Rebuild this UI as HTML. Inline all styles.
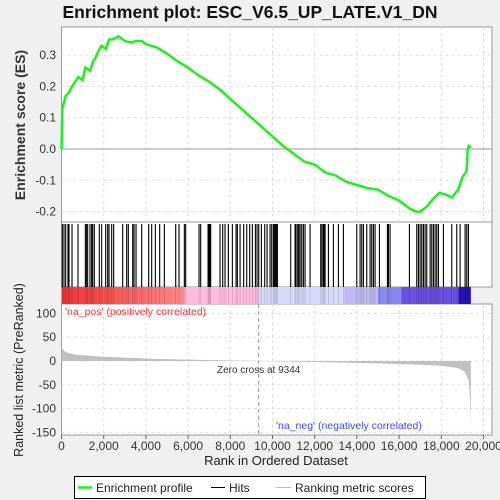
<!DOCTYPE html>
<html><head><meta charset="utf-8"><style>
body{margin:0;background:#f0f0f0;font-family:"Liberation Sans",sans-serif}
svg{display:block}
</style></head><body>
<svg id="c" width="500" height="500" xmlns="http://www.w3.org/2000/svg">
<rect width="500" height="500" fill="#f0f0f0"/>
<text x="250" y="18" text-anchor="middle" font-size="17.5" font-weight="bold" fill="#111">Enrichment plot: ESC_V6.5_UP_LATE.V1_DN</text>
<g id="g"></g>
</svg>
<script>
const esRanks=[0,40,120,200,350,500,700,800,1000,1130,1350,1500,1600,1800,1900,2100,2250,2400,2600,2700,3000,3300,3500,3800,4000,4500,5000,5500,6000,6500,7000,7500,8000,8500,9000,9500,10000,10500,11000,11500,12000,12500,13000,13500,14000,14500,15000,15500,16000,16500,16800,17000,17300,17600,17900,18200,18500,18800,19000,19200,19250,19300,19400];
const esValues=[0,0.13,0.15,0.17,0.18,0.2,0.22,0.23,0.22,0.26,0.25,0.28,0.29,0.32,0.33,0.32,0.35,0.35,0.355,0.36,0.345,0.34,0.345,0.345,0.335,0.325,0.305,0.28,0.26,0.235,0.215,0.19,0.16,0.13,0.10,0.07,0.04,0.01,-0.015,-0.04,-0.05,-0.075,-0.085,-0.105,-0.115,-0.125,-0.13,-0.15,-0.165,-0.19,-0.2,-0.2,-0.185,-0.16,-0.14,-0.145,-0.155,-0.13,-0.09,-0.07,0.0,0.01,0.005];
const hitRanks=[40,118,198,308,355,498,782,1130,1177,1240,1351,1430,1477,1556,1793,1904,2094,2188,2252,2378,2473,2900,3089,3168,3374,3437,3532,3800,4132,4274,4448,4653,4874,5412,5570,5822,5886,6518,6597,6945,6976,7008,7040,7071,7513,7640,7750,7908,8098,8272,8335,8462,8635,8778,8920,9046,9189,9268,9347,9473,9631,9742,9884,9963,10042,10090,10137,10185,10232,10864,11069,11117,11196,11243,11306,11385,11464,11543,11780,12286,12349,12413,12444,12492,12650,12887,13124,13361,13993,14151,14230,14309,14467,14625,14704,14783,14862,15067,15446,15494,15573,16489,16837,16916,16995,17074,17153,17232,17311,17469,17548,17627,17706,17785,17864,18101,18496,18733,18891,19128,19207,19286];
const metricRanks=[0,50,150,300,600,1000,2000,4000,6000,9344,12000,15000,17000,18000,18800,19100,19300,19380,19400];
const metricValues=[32,25,20,17,14,12,9,5,3,0,-2,-5,-8,-10,-15,-22,-40,-100,-140];
const xTicks=[0,2000,4000,6000,8000,10000,12000,14000,16000,18000,20000];
const esTicks=[-0.2,-0.1,0.0,0.1,0.2,0.3];
const mTicks=[100,50,0,-50,-100,-150];
const N=19400, ZERO=9344;
const X0=61.5,X1=492,top0=27,top1=222,hit1=287,bar1=304,bot1=435;
const xs=r=>X0+r*0.0211;
const ys=v=>149-v*313;
const ms=v=>361-v*0.476;
const g=document.getElementById('g');
const NS='http://www.w3.org/2000/svg';
function el(t,a,p){const e=document.createElementNS(NS,t);for(const k in a)e.setAttribute(k,a[k]);(p||g).appendChild(e);return e;}
function txt(x,y,s,a){const e=el('text',Object.assign({x:x,y:y,'font-size':11,fill:'#333'},a||{}));e.textContent=s;return e;}
const p1=el('rect',{x:X0,y:top0,width:X1-X0,height:top1-top0,fill:'#fff',stroke:'#999'});


const p2=el('rect',{x:X0,y:top1,width:X1-X0,height:hit1-top1,fill:'#fff',stroke:'#999'});


const p3=el('rect',{x:X0,y:bar1,width:X1-X0,height:bot1-bar1,fill:'#fff',stroke:'#999'});


xTicks.forEach(t=>{if(t>0){el('line',{x1:xs(t),x2:xs(t),y1:top0,y2:top1,stroke:'#ddd','stroke-dasharray':'3,3'});el('line',{x1:xs(t),x2:xs(t),y1:bar1,y2:bot1,stroke:'#ddd','stroke-dasharray':'3,3'});}});
esTicks.forEach(t=>{el('line',{x1:X0,x2:X1,y1:ys(t),y2:ys(t),stroke:t===0?'#999':'#ddd','stroke-dasharray':t===0?'':'3,3'});
 const l=txt(56,ys(t)+4,t.toFixed(1),{'text-anchor':'end','font-size':12});
 
 });
mTicks.forEach(t=>{el('line',{x1:X0,x2:X1,y1:ms(t),y2:ms(t),stroke:'#ddd','stroke-dasharray':'3,3'});
 const l=txt(56,ms(t)+4,String(t),{'text-anchor':'end','font-size':12});
 
 });
xTicks.forEach(t=>{el('line',{x1:xs(t),x2:xs(t),y1:bot1,y2:bot1+4,stroke:'#666'});
 const l=txt(xs(t),bot1+15,t.toLocaleString('en-US'),{'text-anchor':'middle','font-size':12});
 
 });
const es=el('polyline',{points:esRanks.map((r,i)=>xs(r)+','+ys(esValues[i])).join(' '),fill:'none',stroke:'#22ee22','stroke-width':2.5});


hitRanks.forEach(r=>{const h=el('line',{x1:xs(r),x2:xs(r),y1:top1+2,y2:hit1,stroke:'#000','stroke-width':1.1});
 
 });
const segs=[[0,5822,'#f55'],[5822,9344,'#fbd'],[9344,13400,'#d8d8fa'],[13400,15000,'#c0b8f2'],[15000,16100,'#8888f0'],[16100,18800,'#6a50e0'],[18800,19400,'#2a10c0']];
const defs=el('defs',{});
const gr=el('linearGradient',{id:'rg',x1:0,x2:1},defs);
el('stop',{offset:0,'stop-color':'#e33'},gr);el('stop',{offset:1,'stop-color':'#f88'},gr);
segs.forEach((s,i)=>{const b=el('rect',{x:xs(s[0]),y:hit1,width:xs(s[1])-xs(s[0]),height:bar1-hit1,fill:i===0?'url(#rg)':s[2]});
 
 });
hitRanks.forEach(r=>{el('line',{x1:xs(r),x2:xs(r),y1:hit1,y2:bar1,stroke:'rgba(0,0,0,0.15)','stroke-width':0.8});});
let d='M'+xs(0)+','+ms(0);
metricRanks.forEach((r,i)=>{d+=' L'+xs(r)+','+ms(metricValues[i]);});
d+=' L'+xs(N)+','+ms(0)+' Z';
const a=el('path',{d:d,fill:'#c0c0c0'});


el('line',{x1:xs(ZERO),x2:xs(ZERO),y1:bar1,y2:bot1,stroke:'#999','stroke-dasharray':'4,3'});
const zc=txt(xs(ZERO),373,'Zero cross at '+ZERO,{'text-anchor':'middle','font-size':10});


const np=txt(65,315,"'na_pos' (positively correlated)",{'font-size':10.5,fill:'#f33'});


const nn=txt(276,429,"'na_neg' (negatively correlated)",{'font-size':10.5,fill:'#44f'});


const xt=txt(276,465,'Rank in Ordered Dataset',{'text-anchor':'middle','font-size':13,fill:'#222'});


const yt=txt(0,0,'Enrichment score (ES)',{'text-anchor':'middle','font-size':14,'font-weight':'bold',fill:'#333',transform:'translate(25,125) rotate(-90)'});


const yt2=txt(0,0,'Ranked list metric (PreRanked)',{'text-anchor':'middle','font-size':12.5,fill:'#222',transform:'translate(23,370) rotate(-90)'});


const lg=el('g',{});


el('rect',{x:74.5,y:476.5,width:351,height:22,fill:'#fff',stroke:'#000'},lg);
el('line',{x1:78,x2:92,y1:487.5,y2:487.5,stroke:'#22ee22','stroke-width':2.5},lg);
const l1=txt(96,492,'Enrichment profile',{'font-size':12,fill:'#222'});lg.appendChild(l1);


el('line',{x1:211,x2:225,y1:487.5,y2:487.5,stroke:'#000'},lg);
const l2=txt(229,492,'Hits',{'font-size':12,fill:'#222'});lg.appendChild(l2);


el('line',{x1:276,x2:291,y1:487.5,y2:487.5,stroke:'#bbb'},lg);
const l3=txt(295,492,'Ranking metric scores',{'font-size':12,fill:'#222'});lg.appendChild(l3);


</script>
</body></html>
